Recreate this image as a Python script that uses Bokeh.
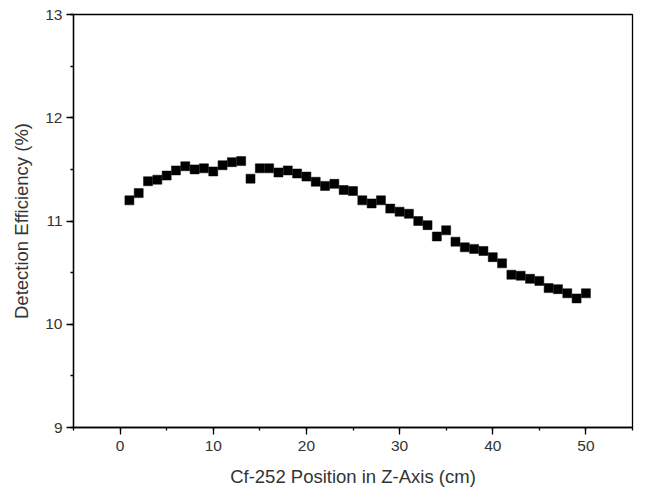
from bokeh.plotting import figure
from bokeh.models import Range1d, SingleIntervalTicker, ColumnDataSource
from bokeh.embed import file_html
from bokeh.resources import INLINE

positions = list(range(1, 51))
efficiency = [
    11.20, 11.27, 11.385, 11.40, 11.44, 11.49, 11.53, 11.50, 11.51, 11.48,
    11.54, 11.57, 11.58, 11.41, 11.51, 11.51, 11.47, 11.49, 11.46, 11.43,
    11.38, 11.34, 11.36, 11.30, 11.29, 11.20, 11.17, 11.20, 11.12, 11.09,
    11.07, 11.00, 10.96, 10.85, 10.91, 10.80, 10.745, 10.73, 10.71, 10.65,
    10.59, 10.48, 10.47, 10.44, 10.42, 10.35, 10.34, 10.30, 10.25, 10.30,
]
x_label = "Cf-252 Position in Z-Axis (cm)"
y_label = "Detection Efficiency (%)"

src = ColumnDataSource(dict(x=positions, y=efficiency))

p = figure(width=659, height=490, output_backend="svg", toolbar_location=None,
           x_range=Range1d(-5, 55), y_range=Range1d(9, 13),
           min_border_left=73, min_border_right=27, min_border_top=14,
           min_border_bottom=63)

p.scatter("x", "y", source=src, marker="square", size=9,
          fill_color="black", line_color="black", line_width=0.5)

p.xgrid.visible = False
p.ygrid.visible = False
p.outline_line_color = "black"
p.outline_line_width = 1.3
p.background_fill_color = "white"
p.border_fill_color = "white"

p.xaxis.ticker = SingleIntervalTicker(interval=10, num_minor_ticks=2)
p.yaxis.ticker = SingleIntervalTicker(interval=1, num_minor_ticks=2)

for ax in (p.xaxis, p.yaxis):
    ax.axis_line_color = "black"
    ax.axis_line_width = 1.3
    ax.major_tick_line_color = "black"
    ax.minor_tick_line_color = "black"
    ax.major_tick_line_width = 1.3
    ax.minor_tick_line_width = 1.3
    ax.major_tick_out = 7
    ax.major_tick_in = 0
    ax.minor_tick_out = 3
    ax.minor_tick_in = 0
    ax.major_label_text_font = "Liberation Sans"
    ax.major_label_text_font_size = "15.5px"
    ax.major_label_text_color = "#333333"
    ax.axis_label_text_font = "Liberation Sans"
    ax.axis_label_text_font_size = "18.5px"
    ax.axis_label_text_font_style = "normal"
    ax.axis_label_text_color = "#333333"

p.xaxis.axis_label = x_label
p.yaxis.axis_label = y_label
p.xaxis.major_label_standoff = 6
p.yaxis.major_label_standoff = 4
p.xaxis.axis_label_standoff = 12
p.yaxis.axis_label_standoff = 10

open("out.html", "w").write(file_html(p, INLINE))
